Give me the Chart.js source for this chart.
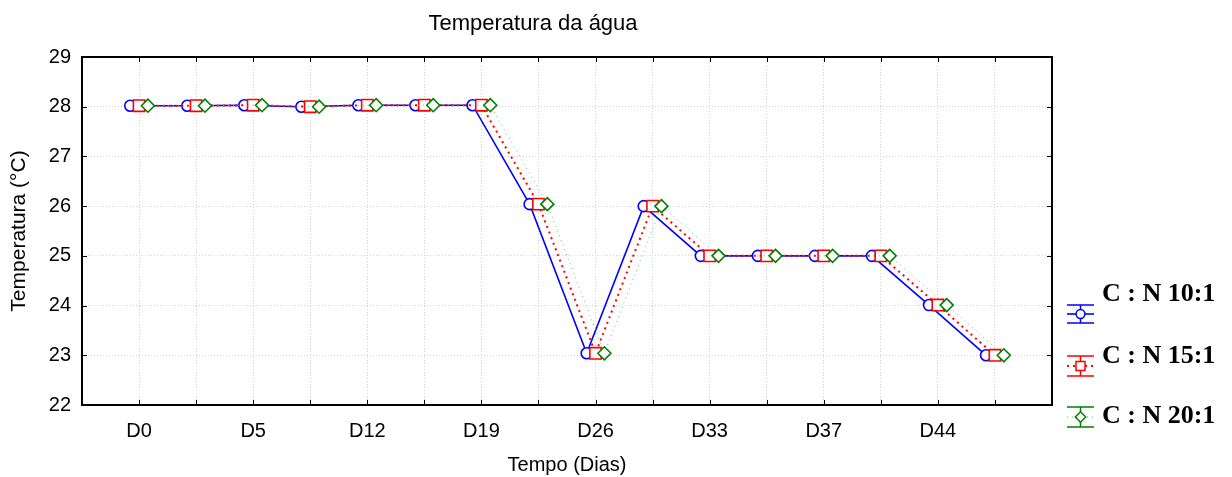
<!DOCTYPE html>
<html><head><meta charset="utf-8">
<script src="https://cdn.jsdelivr.net/npm/chart.js@4.4.1/dist/chart.umd.min.js"></script>
<style>html,body{margin:0;padding:0;background:#fff}#wrap{width:1232px;height:477px;position:relative}</style>
</head><body><div id="wrap"><canvas id="c" width="1232" height="477"></canvas></div>
<script>
// ---- data ----
const tickLabels = ['D0','','D5','','D12','','D19','','D26','','D33','','D37','','D44',''];
const seriesNames = ['C : N 10:1','C : N 15:1','C : N 20:1'];
const cn10 = [28.02,28.02,28.03,28.00,28.03,28.03,28.03,26.04,23.04,26.00,25.00,25.00,25.00,25.00,24.01,23.00];
const cn15 = [28.02,28.02,28.03,28.00,28.03,28.03,28.03,26.04,23.04,26.00,25.00,25.00,25.00,25.00,24.01,23.00];
const cn20 = [28.02,28.02,28.03,28.00,28.03,28.03,28.03,26.04,23.04,26.00,25.00,25.00,25.00,25.00,24.01,23.00];
const yMin = 22, yMax = 29;

// ---- styling ----
const FONT = '"Liberation Sans", Arial, sans-serif';
const styles = [
  {color:'#0000ff', shape:'circle', radius:5.5, dash:[], width:1.6, lineColor:'#0000ff', shift:-0.155},
  {color:'#ff0000', shape:'rect', radius:8, dash:[2,4], width:2, lineColor:'#ff0000', shift:0},
  {color:'#008000', shape:'rectRot', radius:6.5, dash:[1,4], width:1, lineColor:'#6fbf6f', shift:0.155}
];
const seriesValues = [cn10, cn15, cn20];

const datasets = seriesValues.map((vals, s) => ({
  label: seriesNames[s],
  data: vals.map((v, i) => ({x: i + styles[s].shift, y: v})),
  borderColor: styles[s].lineColor,
  borderWidth: styles[s].width,
  borderDash: styles[s].dash,
  pointStyle: styles[s].shape,
  pointRadius: styles[s].radius,
  pointBorderColor: styles[s].color,
  pointBackgroundColor: '#ffffff',
  pointBorderWidth: 1.6,
  tension: 0,
  order: 3 - s,
  clip: false
}));

const gridStyle = {color:'#d4d4d4', lineWidth:1, drawTicks:false};

const framePlugin = {
  id: 'frame',
  afterDraw(chart) {
    const {ctx, chartArea: a, scales: {x, y}} = chart;
    ctx.save();
    ctx.strokeStyle = '#000';
    ctx.lineWidth = 1;
    ctx.beginPath();
    x.ticks.forEach(t => {
      const px = Math.round(x.getPixelForValue(t.value)) + 0.5;
      ctx.moveTo(px, a.bottom); ctx.lineTo(px, a.bottom - 5);
      ctx.moveTo(px, a.top); ctx.lineTo(px, a.top + 5);
    });
    y.ticks.forEach(t => {
      const py = Math.round(y.getPixelForValue(t.value)) + 0.5;
      ctx.moveTo(a.left, py); ctx.lineTo(a.left + 5, py);
      ctx.moveTo(a.right, py); ctx.lineTo(a.right - 5, py);
    });
    ctx.stroke();
    ctx.lineWidth = 2;
    ctx.strokeRect(a.left, a.top, a.right - a.left, a.bottom - a.top);
    // title
    ctx.fillStyle = '#000';
    ctx.font = '22px ' + FONT;
    ctx.textAlign = 'center';
    ctx.textBaseline = 'alphabetic';
    ctx.fillText('Temperatura da água', 533, 30);
    // legend
    const leg = [
      {tb: 301, top: 305, mid: 314, bot: 323},
      {tb: 363, top: 356, mid: 366, bot: 376},
      {tb: 423, top: 407, mid: 417, bot: 427}
    ];
    const x0 = 1067, x1 = 1094, xc = (x0 + x1) / 2;
    leg.forEach((L, s) => {
      const st = styles[s];
      ctx.strokeStyle = st.color;
      ctx.lineWidth = 1.5;
      ctx.setLineDash([]);
      ctx.beginPath();
      ctx.moveTo(x0, L.top); ctx.lineTo(x1, L.top);
      ctx.moveTo(x0, L.bot); ctx.lineTo(x1, L.bot);
      ctx.moveTo(xc, L.top); ctx.lineTo(xc, L.bot);
      ctx.stroke();
      ctx.strokeStyle = st.lineColor;
      ctx.lineWidth = st.width;
      ctx.setLineDash(st.dash);
      ctx.beginPath();
      ctx.moveTo(x0, L.mid); ctx.lineTo(x1, L.mid);
      ctx.stroke();
      ctx.setLineDash([]);
      ctx.fillStyle = '#fff';
      ctx.strokeStyle = st.color;
      ctx.lineWidth = 1.5;
      Chart.helpers.drawPoint(ctx, {pointStyle: st.shape, radius: st.radius * 0.8, rotation: 0, borderWidth: 1.5}, xc, L.mid);
      ctx.fillStyle = '#000';
      ctx.font = 'bold 26px "Liberation Serif", "Times New Roman", serif';
      ctx.textAlign = 'left';
      ctx.fillText(seriesNames[s], 1102, L.tb);
    });
    ctx.restore();
  }
};

new Chart(document.getElementById('c'), {
  type: 'line',
  data: {datasets},
  options: {
    responsive: false,
    animation: false,
    devicePixelRatio: 1,
    layout: {padding: {top: 57, right: 180, left: 0, bottom: 0}},
    plugins: {legend: {display: false}, title: {display: false}, tooltip: {enabled: false}},
    scales: {
      x: {
        type: 'linear', min: -1, max: 16,
        afterBuildTicks: sc => { sc.ticks = tickLabels.map((_, i) => ({value: i})); },
        afterFit: sc => { sc.height = 72; },
        grid: gridStyle,
        border: {display: false, dash: [1, 2]},
        ticks: {
          autoSkip: false, maxRotation: 0, padding: 14, color: '#000',
          font: {family: FONT, size: 20},
          callback: v => tickLabels[v] ?? ''
        },
        title: {display: true, text: 'Tempo (Dias)', color: '#000', font: {family: FONT, size: 20}, padding: {top: 0, bottom: 0}}
      },
      y: {
        min: yMin, max: yMax,
        afterFit: sc => { sc.width = 82; },
        grid: gridStyle,
        border: {display: false, dash: [1, 2]},
        ticks: {stepSize: 1, padding: 11, color: '#000', font: {family: FONT, size: 20}},
        title: {display: true, text: 'Temperatura (°C)', color: '#000', font: {family: FONT, size: 21}, padding: {top: 7, bottom: 0}}
      }
    }
  },
  plugins: [framePlugin]
});
</script>
</body></html>
